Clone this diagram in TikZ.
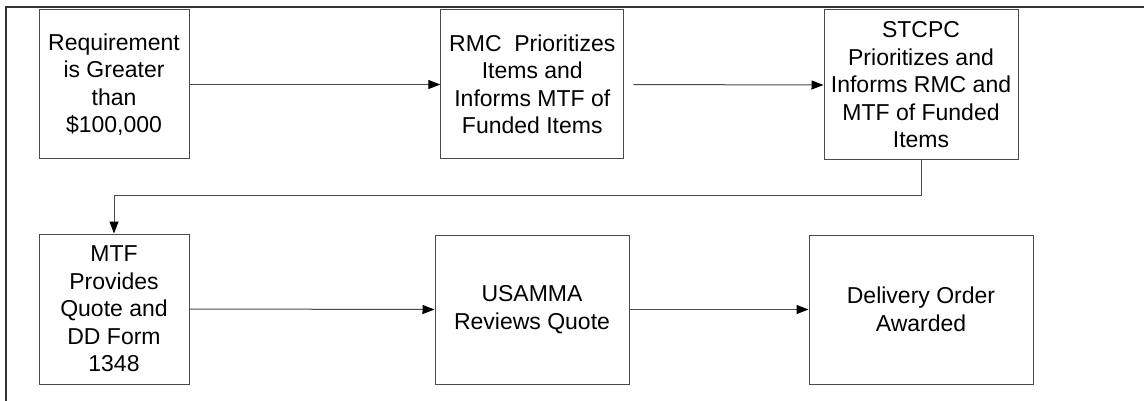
\documentclass[tikz,border=0pt]{standalone}
\usepackage{fontspec}
\setmainfont{Liberation Sans}
\usetikzlibrary{arrows.meta}
\definecolor{boxline}{HTML}{4A4A4A}
\definecolor{frameline}{HTML}{333333}
\tikzset{
  stepbox/.style={draw=boxline, line width=1pt, fill=white, align=center,
    inner sep=0pt, font=\fontsize{23}{27.5}\selectfont},
  flow/.style={draw=boxline, line width=1pt,
    -{Triangle[length=12pt,width=9pt,color=black]}},
}
\begin{document}
\begin{tikzpicture}[x=1pt,y=-1pt]
  \useasboundingbox (0,0) rectangle (1144,401);
  % outer frame (top and left edges)
  \draw[frameline, line width=2pt] (6,401) -- (6,7) -- (1144,7);

  % upper row
  \node[stepbox, minimum width=150pt, minimum height=149pt] (req) at (114,84.5)
    {Requirement\\is Greater\\than\\\$100,000};
  \node[stepbox, minimum width=183pt, minimum height=149pt] (rmc) at (532.3,84.5)
    {RMC\ \ Prioritizes\\Items and\\Informs MTF of\\Funded Items};
  \node[stepbox, minimum width=194pt, minimum height=150pt] (stcpc) at (921,85)
    {STCPC\\Prioritizes and\\Informs RMC and\\MTF of Funded\\Items};

  % lower row
  \node[stepbox, minimum width=150pt, minimum height=150pt] (mtf) at (114,309)
    {MTF\\Provides\\Quote and\\DD Form\\1348};
  \node[stepbox, minimum width=194pt, minimum height=149pt] (usamma) at (532,309.5)
    {USAMMA\\Reviews Quote};
  \node[stepbox, minimum width=224pt, minimum height=149pt] (order) at (921,309.5)
    {Delivery Order\\Awarded};

  % connectors
  \draw[flow] (req.east) -- (rmc.west);
  \draw[flow, shorten <=9pt] (rmc.east) -- (stcpc.west);
  \coordinate (bend) at (921,196);
  \draw[flow] (stcpc.south) -- (bend) -| (mtf.north);
  \draw[flow] (mtf.east) -- (usamma.west);
  \draw[flow] (usamma.east) -- (order.west);
\end{tikzpicture}
\end{document}
